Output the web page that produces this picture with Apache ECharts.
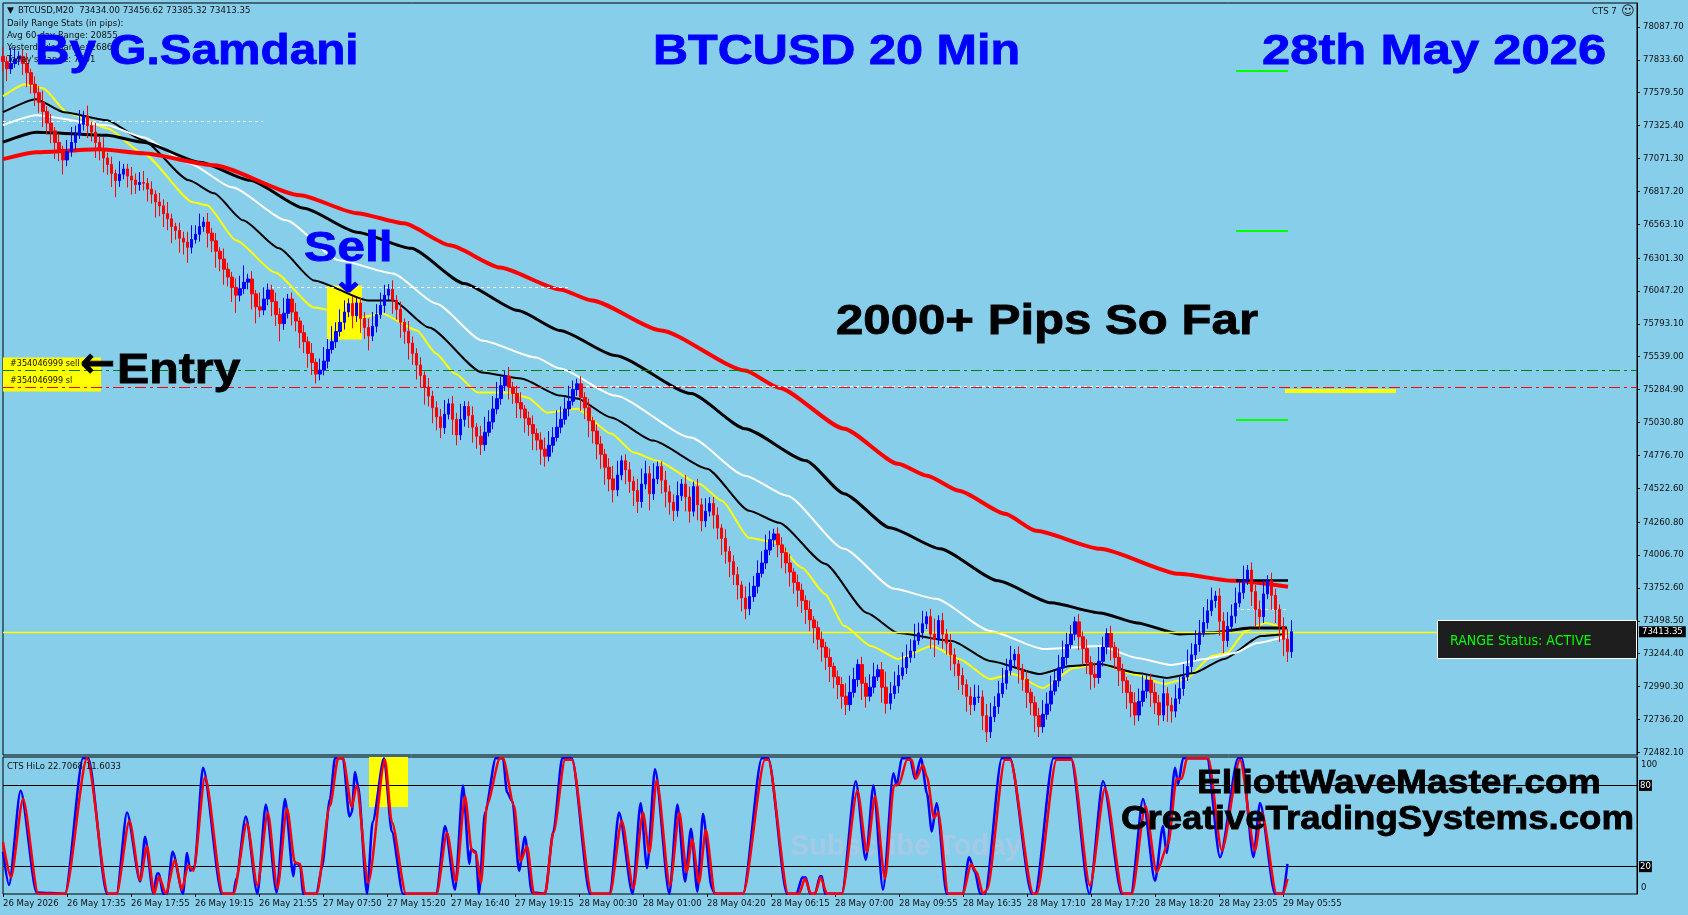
<!DOCTYPE html>
<html>
<head>
<meta charset="utf-8">
<title>BTCUSD 20 Min</title>
<script src="https://cdn.jsdelivr.net/npm/echarts@6/dist/echarts.min.js"></script>
<style>
  html, body { margin: 0; padding: 0; background: #87CEEB; }
  #chart { width: 1688px; height: 915px; }
</style>
</head>
<body>
<div id="chart"></div>
<script>
// ============================================================
// Data
// ============================================================

var priceTicks = [78087.70, 77833.60, 77579.50, 77325.40, 77071.30, 76817.20, 76563.10, 76301.30,
  76047.20, 75793.10, 75539.00, 75284.90, 75030.80, 74776.70, 74522.60, 74260.80, 74006.70,
  73752.60, 73498.50, 73244.40, 72990.30, 72736.20, 72482.10];

var timeLabels = ['26 May 2026', '26 May 17:35', '26 May 17:55', '26 May 19:15', '26 May 21:55',
  '27 May 07:50', '27 May 15:20', '27 May 16:40', '27 May 19:15', '28 May 00:30', '28 May 01:00',
  '28 May 04:20', '28 May 06:15', '28 May 07:00', '28 May 09:55', '28 May 16:35', '28 May 17:10',
  '28 May 17:20', '28 May 18:20', '28 May 23:05', '29 May 05:55'];

var firstOpen = 77860;
var barClose = [
  77820, 77765, 77805, 77840, 77860, 77805, 77735, 77645, 77580, 77505,
  77435, 77345, 77285, 77195, 77130, 77060, 77125, 77195, 77255, 77335,
  77400, 77325, 77275, 77195, 77145, 77075, 77025, 76955, 76900, 76950,
  76990, 76935, 76905, 76870, 76885, 76880, 76835, 76795, 76735, 76705,
  76645, 76605, 76545, 76515, 76455, 76425, 76385, 76445, 76485, 76545,
  76580, 76495, 76435, 76355, 76295, 76215, 76155, 76075, 76015, 76065,
  76115, 76140, 76025, 75925, 75900, 75985, 76055, 75965, 75865, 75795,
  75875, 75985, 75885, 75815, 75725, 75655, 75565, 75495, 75405, 75435,
  75505, 75595, 75655, 75735, 75805, 75885, 75950, 75855, 75955, 75835,
  75765, 75700, 75775, 75865, 75935, 76015, 76060, 75975, 75905, 75805,
  75735, 75645, 75565, 75475, 75395, 75305, 75235, 75145, 75075, 74990,
  75095, 75175, 75055, 74935, 75055, 75155, 75085, 74995, 74925, 74860,
  74955, 75035, 75135, 75215, 75315, 75390, 75305, 75255, 75185, 75135,
  75065, 75015, 74945, 74895, 74825, 74770, 74855, 74915, 74995, 75055,
  75135, 75195, 75285, 75330, 75225, 75145, 75045, 74965, 74865, 74785,
  74685, 74595, 74510, 74625, 74735, 74665, 74575, 74505, 74420, 74555,
  74635, 74480, 74595, 74690, 74585, 74495, 74415, 74350, 74465, 74555,
  74455, 74345, 74535, 74395, 74270, 74345, 74405, 74315, 74215, 74135,
  74035, 73955, 73855, 73775, 73675, 73590, 73685, 73765, 73865, 73945,
  74045, 74125, 74170, 74085, 74025, 73945, 73875, 73795, 73735, 73655,
  73585, 73505, 73445, 73355, 73295, 73215, 73145, 73065, 73005, 72915,
  72850, 72945, 73045, 73160, 73015, 72915, 72985, 73065, 73120, 72985,
  72860, 72935, 72995, 73075, 73135, 73215, 73265, 73345, 73405, 73475,
  73530, 73395, 73355, 73500, 73395, 73325, 73235, 73165, 73075, 73005,
  72915, 72850, 72905, 72910, 72765, 72640, 72755, 72835, 72935, 73015,
  73115, 73195, 73240, 73125, 73045, 72945, 72865, 72765, 72680, 72775,
  72855, 72955, 73035, 73135, 73215, 73315, 73395, 73490, 73375, 73285,
  73175, 73085, 73060, 73185, 73295, 73400, 73295, 73215, 73115, 73035,
  72945, 72865, 72770, 72875, 72955, 73040, 72945, 72865, 72770, 72935,
  72845, 72800, 72895, 72975, 73065, 73145, 73235, 73315, 73405, 73485,
  73575, 73655, 73690, 73495, 73345, 73455, 73535, 73635, 73715, 73815,
  73890, 73725, 73585, 73530, 73705, 73810, 73695, 73585, 73455, 73355,
  73260, 73413.35
];

// how far the spike of each bar reaches past its body
var barWickUp = [
  35, 20, 60, 45, 20, 25, 40, 15, 30, 25,
  45, 20, 35, 15, 30, 20, 45, 60, 35, 55,
  20, 40, 15, 35, 25, 45, 20, 30, 15, 50,
  20, 20, 35, 25, 40, 45, 20, 30, 15, 35,
  25, 45, 20, 15, 30, 25, 40, 55, 35, 50,
  20, 35, 20, 30, 15, 40, 25, 20, 35, 50,
  65, 20, 30, 15, 55, 45, 25, 20, 35, 25,
  60, 20, 25, 35, 15, 30, 20, 40, 15, 45,
  55, 40, 60, 35, 50, 45, 20, 30, 20, 20,
  25, 35, 55, 40, 50, 40, 20, 35, 20, 30,
  15, 40, 25, 20, 30, 15, 35, 20, 25, 30,
  55, 20, 30, 25, 60, 20, 20, 35, 15, 40,
  60, 45, 50, 65, 35, 20, 35, 20, 30, 40,
  15, 25, 35, 20, 30, 45, 55, 40, 65, 50,
  45, 60, 35, 20, 30, 20, 35, 15, 25, 30,
  20, 35, 50, 55, 20, 25, 30, 20, 45, 60,
  50, 30, 60, 20, 20, 35, 25, 30, 55, 20,
  35, 40, 20, 30, 25, 50, 25, 25, 30, 15,
  35, 20, 25, 30, 15, 45, 55, 40, 50, 45,
  60, 35, 20, 25, 30, 20, 35, 15, 30, 25,
  20, 35, 15, 25, 30, 20, 35, 15, 25, 30,
  50, 65, 45, 20, 30, 25, 50, 55, 20, 30,
  60, 45, 55, 40, 60, 50, 45, 65, 40, 50,
  20, 30, 60, 20, 30, 20, 35, 25, 15, 30,
  20, 35, 50, 45, 25, 45, 55, 40, 50, 60,
  45, 55, 20, 30, 20, 35, 15, 25, 30, 55,
  45, 60, 40, 50, 65, 45, 35, 20, 30, 20,
  35, 25, 45, 55, 40, 20, 30, 20, 35, 25,
  15, 30, 40, 50, 60, 20, 25, 35, 30, 55,
  25, 30, 55, 45, 50, 65, 45, 55, 50, 60,
  45, 50, 20, 30, 35, 55, 45, 60, 50, 55,
  20, 30, 25, 35, 55, 20, 30, 25, 20, 35,
  40, 45
];
var barWickDown = [
  50, 60, 25, 20, 30, 55, 70, 45, 65, 50,
  75, 55, 60, 80, 50, 70, 30, 25, 35, 20,
  30, 60, 45, 75, 55, 70, 50, 65, 80, 30,
  25, 55, 70, 45, 30, 35, 60, 45, 75, 50,
  65, 55, 80, 45, 70, 60, 75, 30, 20, 35,
  25, 70, 55, 80, 60, 75, 45, 70, 85, 30,
  25, 35, 75, 80, 35, 25, 30, 70, 55, 85,
  30, 25, 65, 50, 75, 55, 70, 60, 45, 30,
  25, 35, 20, 30, 25, 35, 25, 60, 30, 70,
  55, 70, 25, 30, 20, 35, 25, 65, 50, 75,
  60, 80, 55, 70, 60, 85, 50, 75, 65, 50,
  30, 25, 75, 50, 25, 35, 60, 75, 60, 50,
  30, 20, 35, 25, 30, 25, 60, 50, 75, 45,
  70, 55, 80, 50, 75, 50, 25, 35, 20, 30,
  25, 35, 20, 30, 65, 55, 80, 60, 75, 70,
  85, 60, 60, 30, 25, 70, 55, 75, 55, 30,
  25, 80, 30, 25, 65, 75, 60, 50, 30, 25,
  70, 55, 25, 75, 50, 30, 25, 65, 55, 80,
  60, 75, 50, 70, 65, 50, 30, 25, 35, 20,
  30, 25, 35, 60, 75, 50, 70, 55, 80, 60,
  70, 55, 75, 50, 70, 60, 75, 55, 70, 60,
  50, 30, 25, 35, 80, 55, 25, 30, 20, 75,
  50, 30, 25, 35, 20, 30, 25, 35, 20, 30,
  25, 70, 85, 25, 70, 55, 75, 60, 70, 50,
  75, 50, 30, 25, 70, 50, 30, 25, 35, 20,
  30, 25, 35, 70, 55, 75, 60, 80, 50, 30,
  25, 35, 20, 30, 25, 35, 20, 30, 65, 80,
  55, 75, 50, 30, 25, 35, 65, 55, 75, 60,
  80, 70, 50, 30, 25, 35, 70, 55, 50, 30,
  80, 55, 30, 25, 35, 20, 30, 25, 35, 20,
  30, 25, 35, 70, 60, 30, 25, 35, 20, 30,
  25, 70, 85, 60, 30, 25, 70, 65, 75, 80,
  50, 30
];

// moving averages, read at the bars listed next to each of them
var redMaBars = [0, 8.25, 24.25, 35, 52.75, 74.25, 88.5, 100.25, 111.75, 124.25, 139.25, 147.25, 164.5, 185.5, 194, 210.25, 223.75, 231, 239, 250.5, 258.25, 274.25, 294, 307.5, 321.25];
var redMa = [77066, 77120, 77143, 77112, 77019, 76787, 76648, 76570, 76400, 76229, 76059, 75974, 75742, 75432, 75300, 74983, 74712, 74619, 74503, 74325, 74194, 74055, 73861, 73807, 73761];

var blackMaBars = [0, 8.25, 26, 35, 49.25, 61.75, 75.25, 88.5, 102, 115.25, 128.75, 139.25, 153, 172, 185.5, 200.75, 210.25, 221.75, 234.25, 248.75, 262, 274.25, 283.5, 294, 302.25, 311.75, 321];
var blackMa = [77197, 77275, 77251, 77197, 77042, 76903, 76686, 76501, 76377, 76106, 75897, 75742, 75549, 75254, 74983, 74736, 74481, 74217, 74055, 73807, 73637, 73559, 73482, 73397, 73405, 73443, 73443];

var whiteMaBars = [0, 8.25, 26, 35, 46.5, 57.25, 70.75, 84, 97.5, 108.25, 119.75, 133.25, 139.25, 153, 172, 185.5, 196, 210.25, 222.75, 233.25, 246.75, 260, 274.25, 283.5, 292, 300.5, 308, 313.5, 321];
var whiteMa = [77329, 77406, 77329, 77236, 77035, 76849, 76594, 76284, 76183, 75951, 75665, 75533, 75448, 75239, 74914, 74620, 74465, 74055, 73745, 73668, 73420, 73281, 73304, 73211, 73157, 73203, 73250, 73327, 73381];

var thinMaBars = [0, 8.25, 15.25, 26, 35, 46.5, 52.75, 60, 69, 77.75, 91.25, 97.5, 106.5, 119.75, 129.5, 139.25, 143.5, 152, 162.5, 176, 186.5, 194, 205.5, 216, 223.75, 237.25, 246.75, 259.25, 266.75, 274.25, 283.5, 291, 297.75, 305.25, 314.5, 320.25];
var thinMa = [77429, 77530, 77429, 77367, 77213, 76903, 76802, 76594, 76377, 76129, 75974, 75974, 75765, 75417, 75371, 75239, 75216, 75069, 74891, 74674, 74349, 74256, 73939, 73559, 73404, 73343, 73188, 73087, 73149, 73165, 73095, 73057, 73095, 73203, 73381, 73397];

var yellowMaBars = [0, 5.5, 10, 16.25, 26, 35, 47.5, 51, 58.25, 68, 77.75, 89.5, 94.75, 103.5, 108.25, 113, 118.75, 126.5, 131.25, 136, 143.5, 152, 157.75, 163.5, 174, 179.75, 186.5, 193.25, 199.75, 205.5, 210.25, 217, 223.75, 232.25, 239, 246.75, 252.5, 260, 267.75, 274.25, 283.5, 290.25, 295.75, 302.25, 306, 310.75, 315.5, 321];
var yellowMa = [77553, 77646, 77615, 77422, 77305, 77112, 76733, 76710, 76439, 76191, 75920, 75843, 75874, 75742, 75564, 75409, 75262, 75262, 75223, 75107, 75138, 74945, 74798, 74736, 74558, 74426, 74140, 74101, 73908, 73706, 73459, 73304, 73203, 73304, 73203, 73048, 73087, 72979, 73134, 73165, 73080, 73010, 73049, 73227, 73250, 73420, 73482, 73435];

// price levels
var entryPrice = 75432;
var stopPrice = 75303;
var lastPrice = 73413.35;
var pivotPrices = [77747, 76516, 75053];
var dayHighPrice = 73815;
var rangePrice = 75278;
var dashPrices = [77360, 76075, 75312, 73590];
var dashStartBars = [0, 67, 142.75, 308];
var dashEndBars = [65, 142, 306.5, 321];

// CTS HiLo oscillator
var hiloBlueBars = [0, 1.5, 4.4, 8.4, 15.5, 20, 21.3, 26, 28.4, 31, 34.3, 35.5, 37.6, 38.5, 39, 40, 41, 42.4, 45, 46, 46.8, 47.8, 50, 54.7, 57.6, 58.3, 60.7, 63.6, 65.7, 68.4, 70.5, 72.6, 73, 74.3, 75, 78.4, 79.7, 81.75,
  83, 85, 86.6, 87.2, 88, 88.8, 91, 92.4, 95.25, 97.2, 100, 108.4, 110.5, 113, 115, 116.6, 117, 118.2, 119, 120.5, 123.2, 125, 126, 127.4, 129, 130.5, 132.2, 135.5, 137.6, 139.8, 142.2, 146.75, 151.75, 154, 157.4, 159.4,
  161, 163, 166.6, 168.6, 170.5, 172, 173.6, 175, 177.2, 178, 185, 189.7, 191.3, 196, 198.4, 199.8, 200.7, 201.75, 203, 204.25, 204.7, 205.5, 209.7, 213.2, 215.7, 217.6, 220, 222.6, 223.4, 224.7, 226.75, 228, 229.5, 231, 232.2, 233.4, 235.9, 240, 241.5, 243, 244.25, 245.5, 249.7, 251.75, 257.2, 258, 262.6, 267, 271.6, 275, 279.7, 282, 285, 288, 290, 290.9, 293, 293.8, 295, 301, 304.25, 308.8, 309.7, 312.6, 314.25, 318, 320, 321.1];
var hiloBlue = [31, 6.5, 76, 1, 0, 100, 100, 0, 0, 60, 9, 42, 0, 15, 15, 0, 0, 31, 0, 30, 17, 19, 93, 0, 0, 11, 57, 0, 66, 1, 70, 13, 23, 21, 0, 0, 19, 70,
  100, 100, 57, 60, 90, 79, 0, 53, 100, 46, 0, 0, 50, 3, 80, 22, 33, 31, 0, 60, 100, 100, 75, 68, 17, 42, 1, 0, 46, 100, 100, 0, 0, 60, 0, 67,
  19, 92, 0, 66, 9, 48, 1.5, 59, 4, 0, 0, 100, 100, 0, 0, 12, 12, 0, 0, 13, 13, 0, 0, 83, 25, 80, 3, 89, 80, 100, 100, 85, 100, 74, 46, 67, 0, 0, 27, 16, 0, 0, 100, 100, 0, 0, 100, 100, 0, 83, 0, 0, 70, 9.5, 50, 30, 93, 81, 100, 100, 27, 100, 100, 27, 67, 0, 0, 22];

var hiloRedBars = [0, 2, 5, 8.8, 15.5, 21, 26.3, 28.4, 31.6, 34.3, 36, 37.8, 39, 40.7, 43, 44.7, 46.3, 47.6, 50.5, 55, 57.6, 61, 63.6, 66.2, 68.6, 71, 73, 74.3, 75.5, 78.4, 81.75,
  83.8, 85, 87.2, 88.4, 91.3, 95.5, 97.2, 100.75, 108.4, 111, 113.25, 115.5, 117.2, 118.2, 119.5, 121, 124.25, 125, 127.75, 129.4, 131, 132.75, 135.5, 137.6, 140.5, 142.2, 147.2, 151.75, 154.7, 157.6, 160, 161.6, 163.4,
  166.75, 169.1, 170.9, 172.3, 174, 175.7, 178, 185, 190.5, 191.3, 196.3, 199, 200.5, 202, 203, 204.4, 206, 209.7, 213.6, 216, 218, 220.5, 222.75, 224, 226, 227.2, 228.25, 230, 231, 232.75, 233.8, 236.3, 240, 242, 243.4, 245, 246, 250.5, 251.75, 257.6, 258.4, 263.4, 267.2, 271.75, 275.5, 280, 282.2, 285.6, 288.4, 291.3, 293.4, 294.7, 296, 301.3, 304.7, 309.25, 313, 314.7, 318.4, 320, 321.1];
var hiloRed = [38, 12, 70, 0, 0, 100, 0, 0, 54, 10, 35, 0, 13, 0, 25, 3, 21, 17, 86, 0, 0, 52, 6, 60, 4, 63, 23, 22, 0, 0, 65,
  100, 100, 64, 80, 8, 99, 53, 0, 0, 45, 9, 72, 32, 30, 8, 66, 100, 100, 65, 24, 35, 0, 0, 45, 99, 99, 0, 0, 54, 4, 60, 30, 84,
  6, 60, 16, 40, 8, 47, 0, 0, 99, 99, 0, 0, 11, 0, 0, 12, 0, 0, 76, 31, 72, 11, 80, 81, 99, 99, 85, 95, 86, 56, 60, 0, 0, 22, 16, 0, 3, 99, 99, 0, 0, 99, 99, 6, 78, 0, 0, 65, 16, 37, 85, 85, 100, 100, 32, 99, 32, 60, 0, 0, 11];

var hiloLevels = [80, 20];

// ============================================================
// Building the option
// ============================================================

var BAND_COUNT = 408.5;   // bar slots across the whole window, most of the right side is empty
var LABEL_STEP = 16;      // one time label every 16 bars
var WICK_UP_GAIN = 2;     // spikes looked short against the reference
var WICK_DOWN_GAIN = 1.6;

var SKY = '#87CEEB';
var SMALL_FONT = '"DejaVu Sans Condensed", "Liberation Sans", sans-serif';
var BIG_FONT = '"Liberation Sans", Arial, sans-serif';

var barCategories = [];
for (var i = 0; i < Math.floor(BAND_COUNT); i++) barCategories.push(String(i));

var candleData = barClose.map(function(close, index) {
  var open = index === 0 ? firstOpen : barClose[index - 1];
  return [
    open,
    close,
    Math.min(open, close) - barWickDown[index] * WICK_DOWN_GAIN,
    Math.max(open, close) + barWickUp[index] * WICK_UP_GAIN
  ];
});

function pairs(bars, values) {
  return bars.map(function(bar, index) { return [bar, values[index]]; });
}

function maSeries(name, bars, values, color, width, z) {
  return {
    name: name,
    type: 'line',
    xAxisIndex: 1,
    yAxisIndex: 0,
    data: pairs(bars, values),
    showSymbol: false,
    smooth: 0.2,
    smoothMonotone: 'x',
    lineStyle: { color: color, width: width },
    z: z,
    silent: true
  };
}

function hiloSeries(name, bars, values, color, z) {
  return {
    name: name,
    type: 'line',
    xAxisIndex: 3,
    yAxisIndex: 1,
    data: pairs(bars, values),
    showSymbol: false,
    smooth: 0.25,
    smoothMonotone: 'x',
    lineStyle: { color: color, width: 2.5 },
    z: z,
    silent: true
  };
}

function segment(startBar, endBar, price, color, width, type) {
  return [
    { coord: [startBar, price], lineStyle: { color: color, width: width, type: type || 'solid' } },
    { coord: [endBar, price] }
  ];
}

var levelSegments = [
  segment(0, BAND_COUNT, entryPrice, '#008000', 1, [11, 4, 3, 4]),
  segment(0, BAND_COUNT, stopPrice, '#ff0000', 1, [11, 4, 3, 4]),
  segment(320.5, 348.25, rangePrice, '#ffff00', 4),
  segment(308.25, 321.25, dayHighPrice, '#000000', 2.5)
];
pivotPrices.forEach(function(price) {
  levelSegments.push(segment(308.25, 321.25, price, '#00ff00', 2));
});
dashPrices.forEach(function(price, index) {
  levelSegments.push(segment(dashStartBars[index], dashEndBars[index], price, '#ffffff', 1, [3, 3]));
});

function label(text, x, y, font, fill, z, align) {
  return {
    type: 'text',
    x: x,
    y: y,
    z: z === undefined ? 100 : z,
    silent: true,
    style: {
      text: text,
      font: font,
      fill: fill,
      textAlign: align || 'left',
      textVerticalAlign: 'middle'
    }
  };
}

// heavy annotation text: stretched sideways and slightly stroked like the original
function heavy(text, x, y, font, fill, stretch) {
  var el = label(text, x, y, font, fill);
  el.scaleX = stretch;
  el.style.stroke = fill;
  el.style.lineWidth = 0.8;
  return el;
}

var tinyFont = '9.5px ' + SMALL_FONT;
var titleFont = 'bold 43px ' + BIG_FONT;
var inkFont = 'bold 42px ' + BIG_FONT;
var siteFont = 'bold 33px ' + BIG_FONT;

var graphicElements = [
  // watermark sits under the oscillator
  label('Subscribe Today', 790, 847, 'bold 29px ' + BIG_FONT, '#a6c9e6', 0),

  label('\u25BC', 7, 11, '9px "DejaVu Sans"', '#111111', 50),
  label('BTCUSD,M20  73434.00 73456.62 73385.32 73413.35', 18, 11, tinyFont, '#111111', 50),
  label('Daily Range Stats (in pips):', 7, 24, tinyFont, '#111111', 50),
  label('Avg 60-day Range: 20855', 7, 36, tinyFont, '#111111', 50),
  label("Yesterday's Range: 26866", 7, 48, tinyFont, '#111111', 50),
  label("Today's Range: 7601", 7, 60, tinyFont, '#111111', 50),
  label('CTS 7', 1592, 12, tinyFont, '#111111', 50),
  label('\u263A', 1621, 12, '13px "DejaVu Sans"', '#111111', 50),
  label('CTS HiLo 22.7068 11.6033', 7, 767, tinyFont, '#111111', 50),
  label('#354046999 sell', 10, 364, '9px ' + SMALL_FONT, '#111111', 50),
  label('#354046999 sl', 10, 381, '9px ' + SMALL_FONT, '#111111', 50),

  heavy('By G.Samdani', 35, 52, titleFont, '#0000ff', 1.11),
  heavy('BTCUSD 20 Min', 653, 52, titleFont, '#0000ff', 1.13),
  heavy('28th May 2026', 1262, 52, titleFont, '#0000ff', 1.18),
  heavy('Sell', 304, 249, titleFont, '#0000ff', 1.16),
  heavy('\u2193', 331, 282, 'bold 38px "DejaVu Sans"', '#0000ff', 1.1),
  heavy('\u2190', 80, 366, 'bold 42px "DejaVu Sans"', '#000000', 1),
  heavy('Entry', 117, 371, inkFont, '#000000', 1.15),
  heavy('2000+ Pips So Far', 836, 322, inkFont, '#000000', 1.17),
  heavy('ElliottWaveMaster.com', 1197, 784, siteFont, '#000000', 1.127),
  heavy('CreativeTradingSystems.com', 1121, 820, siteFont, '#000000', 1.11),

  {
    type: 'rect',
    z: 60,
    silent: true,
    shape: { x: 1437.5, y: 620.5, width: 199, height: 38 },
    style: { fill: '#1e1e1e', stroke: '#ffffff', lineWidth: 1 }
  },
  label('RANGE Status: ACTIVE', 1450, 641, '14px ' + SMALL_FONT, '#00ff00', 61),
  label('100', 1641, 765, tinyFont, '#111111', 50),
  label('0', 1641, 888, tinyFont, '#111111', 50)
];

var option = {
  animation: false,
  backgroundColor: SKY,
  textStyle: { fontFamily: SMALL_FONT },
  grid: [
    { left: 3, top: 3, width: 1634, height: 752, show: true, backgroundColor: 'transparent', borderColor: '#000', borderWidth: 1 },
    { left: 3, top: 757, width: 1634, height: 137, show: true, backgroundColor: 'transparent', borderColor: '#000', borderWidth: 1 }
  ],
  xAxis: [
    // bars on a category band, everything else on a value axis counted in bars
    { type: 'category', gridIndex: 0, data: barCategories, boundaryGap: false, show: false },
    { type: 'value', gridIndex: 0, min: 0, max: BAND_COUNT, show: false },
    { type: 'category', gridIndex: 1, data: barCategories, boundaryGap: false, show: false },
    {
      type: 'value',
      gridIndex: 1,
      min: 0,
      max: BAND_COUNT,
      position: 'bottom',
      splitLine: { show: false },
      axisLine: { show: false, onZero: false },
      axisTick: {
        show: true,
        length: 3,
        lineStyle: { color: '#000' },
        customValues: timeLabels.map(function(t, index) { return index * LABEL_STEP; })
      },
      axisLabel: {
        color: '#111',
        fontSize: 9.5,
        fontFamily: SMALL_FONT,
        margin: 5,
        align: 'left',
        showMinLabel: true,
        showMaxLabel: true,
        customValues: timeLabels.map(function(t, index) { return index * LABEL_STEP; }),
        formatter: function(value) { return timeLabels[Math.round(value / LABEL_STEP)]; }
      }
    }
  ],
  yAxis: [
    {
      type: 'value',
      gridIndex: 0,
      position: 'right',
      min: 72461,
      max: 78273,
      splitLine: { show: false },
      axisLine: { show: true, onZero: false, lineStyle: { color: '#000' } },
      axisTick: { show: true, length: 3, lineStyle: { color: '#000' }, customValues: priceTicks },
      axisLabel: {
        color: '#111',
        fontSize: 9.5,
        fontFamily: SMALL_FONT,
        margin: 6,
        showMinLabel: true,
        showMaxLabel: true,
        customValues: priceTicks,
        formatter: function(value) { return value.toFixed(2); }
      }
    },
    {
      type: 'value',
      gridIndex: 1,
      position: 'right',
      min: -0.2,
      max: 101,
      splitLine: { show: false },
      axisLine: { show: true, onZero: false, lineStyle: { color: '#000' } },
      axisTick: { show: false },
      axisLabel: {
        color: '#fff',
        fontSize: 9.5,
        fontFamily: SMALL_FONT,
        margin: 2,
        backgroundColor: '#000',
        padding: [1, 1, 0, 1],
        customValues: hiloLevels,
        formatter: function(value) { return String(value); }
      }
    }
  ],
  graphic: { elements: graphicElements },
  series: [
    {
      name: 'levels',
      type: 'line',
      xAxisIndex: 1,
      yAxisIndex: 0,
      data: [],
      z: 3,
      silent: true,
      markArea: {
        silent: true,
        itemStyle: { color: '#ffff00' },
        data: [
          [{ coord: [81, 76090] }, { coord: [89.75, 75672] }],
          [{ coord: [0, 75533] }, { coord: [24.5, 75270] }]
        ]
      },
      markLine: {
        silent: true,
        symbol: 'none',
        label: { show: false },
        data: levelSegments.concat([[
          { coord: [0, lastPrice], lineStyle: { color: '#ffff00', width: 1.3, type: 'solid' } },
          {
            coord: [BAND_COUNT, lastPrice],
            label: {
              show: true,
              position: 'end',
              distance: 2,
              color: '#fff',
              backgroundColor: '#000',
              fontSize: 9.5,
              fontFamily: SMALL_FONT,
              padding: [1, 3, 0, 3],
              formatter: function() { return lastPrice.toFixed(2); }
            }
          }
        ]])
      }
    },
    maSeries('yellow', yellowMaBars, yellowMa, '#ffff00', 2, 4),
    maSeries('thin', thinMaBars, thinMa, '#000000', 2, 4),
    maSeries('white', whiteMaBars, whiteMa, '#ffffff', 2, 4),
    maSeries('black', blackMaBars, blackMa, '#000000', 3, 4),
    maSeries('red', redMaBars, redMa, '#ff0000', 4, 4),
    {
      name: 'BTCUSD',
      type: 'candlestick',
      xAxisIndex: 0,
      yAxisIndex: 0,
      data: candleData,
      barWidth: 3,
      z: 5,
      silent: true,
      itemStyle: {
        color: '#0000ff',
        color0: '#ff0000',
        borderColor: '#0000ff',
        borderColor0: '#ff0000',
        borderWidth: 1
      }
    },
    {
      name: 'hilo levels',
      type: 'line',
      xAxisIndex: 3,
      yAxisIndex: 1,
      data: [],
      z: 3,
      silent: true,
      markArea: {
        silent: true,
        itemStyle: { color: '#ffff00' },
        data: [[{ coord: [91.5, 64] }, { coord: [101.25, 101] }]]
      },
      markLine: {
        silent: true,
        symbol: 'none',
        label: { show: false },
        lineStyle: { color: '#000', width: 1.2, type: 'solid' },
        data: hiloLevels.map(function(level) { return { yAxis: level }; })
      }
    },
    hiloSeries('CTS HiLo', hiloBlueBars, hiloBlue, '#0000ff', 5),
    hiloSeries('CTS HiLo signal', hiloRedBars, hiloRed, '#ff0000', 6)
  ]
};

var chart = echarts.init(document.getElementById('chart'), null, { renderer: 'canvas' });
chart.setOption(option);
</script>
</body>
</html>
